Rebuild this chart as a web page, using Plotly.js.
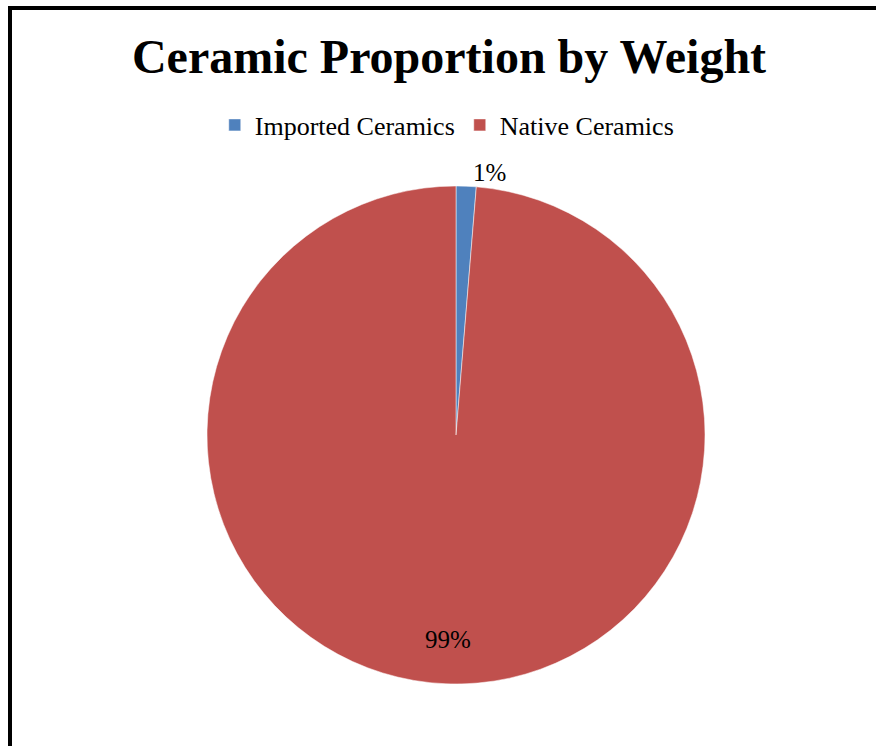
<!DOCTYPE html>
<html>
<head>
<meta charset="utf-8">
<script src="https://cdn.plot.ly/plotly-3.0.1.min.js"></script>
<style>html,body{margin:0;padding:0;background:#fff;}#chart{width:876px;height:746px;}</style>
</head>
<body>
<div id="chart"></div>
<script>
const categories = ["Imported Ceramics", "Native Ceramics"];
const values = [1.3, 98.7];
const colors = ["#4F81BD", "#C0504D"];
const chartTitle = "Ceramic Proportion by Weight";

const W = 876, H = 746;
const font = "Liberation Serif";

// pie geometry (pixels)
const cx = 456, cy = 435, R = 249;

const total = values.reduce((a, b) => a + b, 0);
// label for the large slice computed from its mid-angle (clockwise from 12 o'clock)
let start = 0;
const annotations = [];
values.forEach((v, i) => {
  const frac = v / total;
  const mid = (start + frac / 2) * 2 * Math.PI;
  start += frac;
  if (i === 1) {
    const r = 0.82 * R;
    const px = cx + r * Math.sin(mid);
    const py = cy - r * Math.cos(mid);
    annotations.push({
      xref: "paper", yref: "paper",
      x: px / W, y: 1 - py / H,
      xanchor: "center", yanchor: "middle",
      text: Math.round(frac * 100) + "%",
      showarrow: false,
      font: {family: font, size: 25, color: "#000"}
    });
  }
});

const trace = {
  type: "pie",
  labels: categories,
  values: values,
  sort: false,
  direction: "clockwise",
  rotation: 0,
  marker: {colors: colors, line: {color: "#ffffff", width: 0.5}},
  texttemplate: ["%{percent:.0%}", ""],
  textposition: ["outside", "none"],
  textfont: {family: font, size: 25, color: "#000"},
  outsidetextfont: {family: font, size: 25, color: "#000"},
  domain: {x: [(cx - R) / W, (cx + R) / W], y: [(H - cy - R) / H, (H - cy + R) / H]},
  hoverinfo: "label+percent"
};

const layout = {
  width: W, height: H,
  margin: {l: 0, r: 0, t: 0, b: 0},
  paper_bgcolor: "#ffffff",
  font: {family: font, color: "#000"},
  title: {
    text: "<b>" + chartTitle + "</b>",
    font: {family: font, size: 48, color: "#000"},
    x: 449 / W, xanchor: "center",
    y: 1 - 56 / H, yanchor: "middle"
  },
  showlegend: true,
  legend: {
    orientation: "h",
    x: 0.51, xanchor: "center",
    y: 1 - 125 / H, yanchor: "middle",
    font: {family: font, size: 26, color: "#000"},
    bgcolor: "rgba(0,0,0,0)"
  },
  annotations: annotations,
  shapes: [
    {type: "line", xref: "paper", yref: "paper", x0: 10 / W, x1: 10 / W, y0: 0, y1: 1 - 6 / H, line: {color: "#000", width: 4}},
    {type: "line", xref: "paper", yref: "paper", x0: 8 / W, x1: 1, y0: 1 - 8 / H, y1: 1 - 8 / H, line: {color: "#000", width: 4}}
  ]
};

Plotly.newPlot("chart", [trace], layout, {displayModeBar: false, staticPlot: true});
</script>
</body>
</html>
